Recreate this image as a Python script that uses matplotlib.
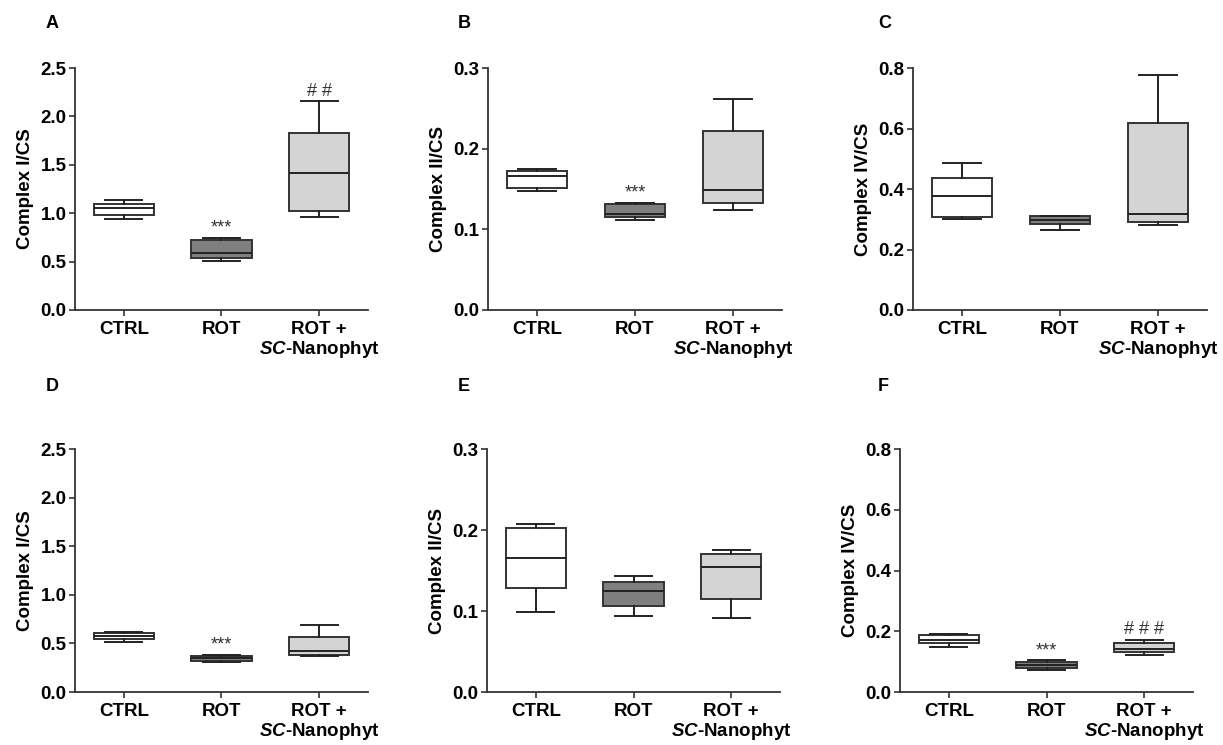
import numpy as np
import matplotlib
matplotlib.use("Agg")
import matplotlib.pyplot as plt

plt.rcParams['font.family'] = ['Liberation Sans', 'DejaVu Sans']
plt.rcParams['font.weight'] = 'bold'
plt.rcParams['mathtext.fontset'] = 'custom'
plt.rcParams['mathtext.it'] = 'Liberation Sans:italic:bold'
plt.rcParams['mathtext.rm'] = 'Liberation Sans:bold'

#---------------- data ----------------#
groups = ["CTRL", "ROT", "ROT +\n$\\mathit{SC}$-Nanophyt"]
panel_letters = ["A", "B", "C", "D", "E", "F"]
ylabels = ["Complex I/CS", "Complex II/CS", "Complex IV/CS",
           "Complex I/CS", "Complex II/CS", "Complex IV/CS"]
ytops = [2.5, 0.3, 0.8, 2.5, 0.3, 0.8]
ysteps = [0.5, 0.1, 0.2, 0.5, 0.1, 0.2]

# per panel: [CTRL, ROT, ROT+SC] each as (whislo, q1, med, q3, whishi)
box_A = [(0.94, 0.98, 1.05, 1.10, 1.14), (0.51, 0.54, 0.59, 0.72, 0.74), (0.96, 1.02, 1.42, 1.83, 2.16)]
box_B = [(0.148, 0.151, 0.166, 0.172, 0.175), (0.112, 0.115, 0.119, 0.131, 0.133), (0.124, 0.133, 0.149, 0.222, 0.262)]
box_C = [(0.300, 0.307, 0.377, 0.435, 0.485), (0.265, 0.283, 0.297, 0.310, 0.310), (0.280, 0.290, 0.318, 0.617, 0.778)]
box_D = [(0.51, 0.55, 0.58, 0.61, 0.62), (0.31, 0.32, 0.35, 0.37, 0.38), (0.37, 0.38, 0.42, 0.57, 0.69)]
box_E = [(0.099, 0.129, 0.165, 0.203, 0.208), (0.094, 0.106, 0.125, 0.136, 0.143), (0.091, 0.115, 0.154, 0.171, 0.175)]
box_F = [(0.148, 0.162, 0.172, 0.188, 0.192), (0.074, 0.080, 0.088, 0.098, 0.104), (0.121, 0.133, 0.143, 0.162, 0.172)]
all_boxes = [box_A, box_B, box_C, box_D, box_E, box_F]

# significance marks: (panel index, group index, text)
marks = [(0, 1, "***"), (0, 2, "# #"), (1, 1, "***"), (3, 1, "***"), (5, 1, "***"), (5, 2, "# # #")]

box_colors = ["white", "#7f7f7f", "#d4d4d4"]

#---------------- layout ----------------#
fig = plt.figure(figsize=(12.23, 7.45), dpi=100)

# axes rectangles in figure fractions
rects = [
    [0.0613, 0.5839, 0.2396, 0.3248],
    [0.3990, 0.5839, 0.2404, 0.3248],
    [0.7465, 0.5839, 0.2404, 0.3248],
    [0.0613, 0.0711, 0.2396, 0.3262],
    [0.3982, 0.0711, 0.2396, 0.3262],
    [0.7359, 0.0711, 0.2396, 0.3262],
]
letter_pos = [(0.037, 0.968), (0.374, 0.968), (0.718, 0.968),
              (0.037, 0.481), (0.374, 0.481), (0.718, 0.481)]

axes = []
for i in range(6):
    ax = fig.add_axes(rects[i])
    axes.append(ax)
    stats = []
    for g in range(3):
        lo, q1, med, q3, hi = all_boxes[i][g]
        stats.append(dict(whislo=lo, q1=q1, med=med, q3=q3, whishi=hi, fliers=[]))
    bp = ax.bxp(stats, positions=[0, 1, 2], widths=0.62, capwidths=0.38,
                patch_artist=True, showfliers=False,
                boxprops=dict(edgecolor="#333333", linewidth=1.4),
                whiskerprops=dict(color="#222222", linewidth=1.4),
                capprops=dict(color="#222222", linewidth=1.4),
                medianprops=dict(color="#222222", linewidth=1.4))
    for patch, c in zip(bp['boxes'], box_colors):
        patch.set_facecolor(c)

    ax.set_xlim(-0.5, 2.5)
    ax.set_ylim(0, ytops[i])
    ax.set_yticks(np.round(np.arange(0, ytops[i] + ysteps[i] / 2, ysteps[i]), 2))
    ax.yaxis.set_major_formatter(matplotlib.ticker.FormatStrFormatter('%.1f'))
    ax.set_xticks([0, 1, 2])
    ax.set_xticklabels(groups, fontsize=13.5, fontweight='bold', linespacing=1.05)
    ax.tick_params(axis='y', labelsize=13.5, length=4, width=1.2, color="#333333", pad=2)
    ax.tick_params(axis='x', length=4, width=1.2, color="#333333", pad=4)
    for s in ['top', 'right']:
        ax.spines[s].set_visible(False)
    for s in ['left', 'bottom']:
        ax.spines[s].set_linewidth(1.3)
        ax.spines[s].set_color("#333333")
    ax.set_ylabel(ylabels[i], fontsize=13.5, fontweight='bold', labelpad=5)
    fig.text(letter_pos[i][0], letter_pos[i][1], panel_letters[i],
             fontsize=13, fontweight='bold', ha='left', va='center')

for (pi, gi, txt) in marks:
    top = all_boxes[pi][gi][4]
    axes[pi].annotate(txt, xy=(gi, top), xytext=(0, 1), textcoords='offset points',
                      ha='center', va='bottom', fontsize=13, fontweight='normal',
                      color="#333333")

fig.savefig("out.png", dpi=100)
